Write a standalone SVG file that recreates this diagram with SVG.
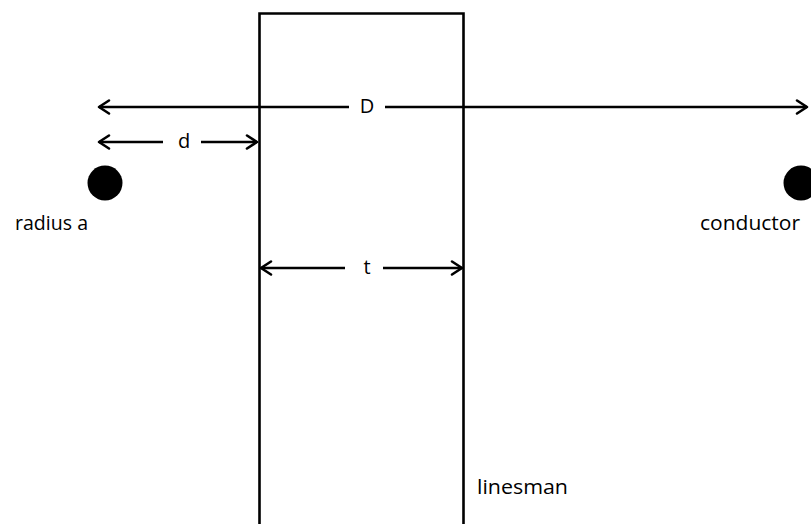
<svg xmlns="http://www.w3.org/2000/svg" width="811" height="524" viewBox="0 0 811 524">
<defs>
<style>
.ln{stroke:#000;stroke-width:2.6;fill:none}
.ah{stroke:#000;stroke-width:2.6;fill:none;stroke-linecap:round;stroke-linejoin:round}
.tx{font-family:"Open Sans","Liberation Sans",sans-serif;font-size:20px;fill:#000}
</style>
</defs>
<rect width="811" height="524" fill="#fff"/>
<g id="linesman">
<polyline class="ln" points="259.5,530 259.5,13.5 463.5,13.5 463.5,530"/>
<text class="tx" x="477" y="494" textLength="91" lengthAdjust="spacingAndGlyphs">linesman</text>
</g>
<g id="conductor-left">
<circle cx="105" cy="183" r="17.5" fill="#000"/>
<text class="tx" x="15" y="230" textLength="73" lengthAdjust="spacingAndGlyphs">radius a</text>
</g>
<g id="conductor-right">
<circle cx="801" cy="183" r="17.5" fill="#000"/>
<text class="tx" x="700" y="230" textLength="100" lengthAdjust="spacingAndGlyphs">conductor</text>
</g>
<g id="connectors">
<line class="ln" x1="99" y1="107" x2="349" y2="107"/>
<line class="ln" x1="385" y1="107" x2="807" y2="107"/>
<polyline class="ah" points="109,100.5 99,107 109,113.5"/>
<polyline class="ah" points="797,100.5 807,107 797,113.5"/>
<text class="tx" x="367" y="112.5" text-anchor="middle">D</text>
<line class="ln" x1="99" y1="142" x2="163" y2="142"/>
<line class="ln" x1="201" y1="142" x2="257" y2="142"/>
<polyline class="ah" points="109,135.5 99,142 109,148.5"/>
<polyline class="ah" points="247,135.5 257,142 247,148.5"/>
<text class="tx" x="184" y="147.5" text-anchor="middle">d</text>
<line class="ln" x1="261" y1="268" x2="345" y2="268"/>
<line class="ln" x1="383" y1="268" x2="462" y2="268"/>
<polyline class="ah" points="271,261.5 261,268 271,274.5"/>
<polyline class="ah" points="452,261.5 462,268 452,274.5"/>
<text class="tx" x="367" y="274" text-anchor="middle">t</text>
</g>
</svg>
